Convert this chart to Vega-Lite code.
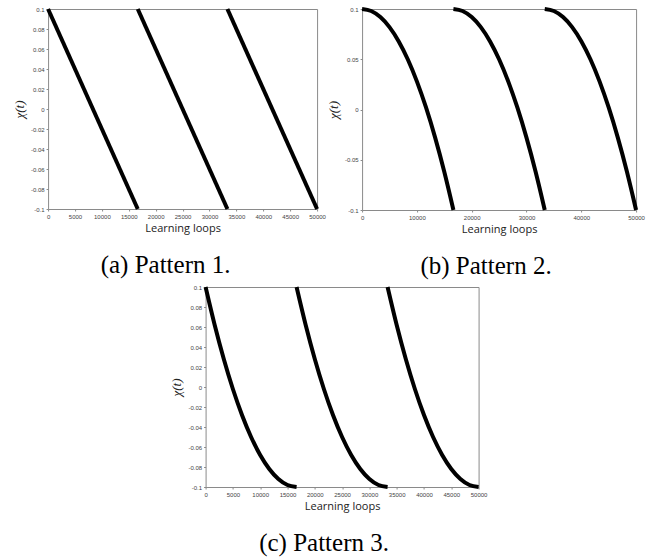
{
  "$schema": "https://vega.github.io/schema/vega-lite/v6.json",
  "padding": {"left": 12, "top": 0, "right": 5, "bottom": 5},
  "datasets": {
    "p1": [
      {"t": 0, "y": 0.1, "seg": 1}, {"t": 16667, "y": -0.1, "seg": 1},
      {"t": 16667, "y": 0.1, "seg": 2}, {"t": 33333, "y": -0.1, "seg": 2},
      {"t": 33333, "y": 0.1, "seg": 3}, {"t": 50000, "y": -0.1, "seg": 3}
    ],
    "p2": [
      {"t": 0, "y": 0.1, "seg": 1}, {"t": 1667, "y": 0.098, "seg": 1}, {"t": 3333, "y": 0.092, "seg": 1}, {"t": 5000, "y": 0.082, "seg": 1}, {"t": 6667, "y": 0.068, "seg": 1}, {"t": 8333, "y": 0.05, "seg": 1}, {"t": 10000, "y": 0.028, "seg": 1}, {"t": 11667, "y": 0.002, "seg": 1}, {"t": 13333, "y": -0.028, "seg": 1}, {"t": 15000, "y": -0.062, "seg": 1}, {"t": 16667, "y": -0.1, "seg": 1},
      {"t": 16667, "y": 0.1, "seg": 2}, {"t": 18333, "y": 0.098, "seg": 2}, {"t": 20000, "y": 0.092, "seg": 2}, {"t": 21667, "y": 0.082, "seg": 2}, {"t": 23333, "y": 0.068, "seg": 2}, {"t": 25000, "y": 0.05, "seg": 2}, {"t": 26667, "y": 0.028, "seg": 2}, {"t": 28333, "y": 0.002, "seg": 2}, {"t": 30000, "y": -0.028, "seg": 2}, {"t": 31667, "y": -0.062, "seg": 2}, {"t": 33333, "y": -0.1, "seg": 2},
      {"t": 33333, "y": 0.1, "seg": 3}, {"t": 35000, "y": 0.098, "seg": 3}, {"t": 36667, "y": 0.092, "seg": 3}, {"t": 38333, "y": 0.082, "seg": 3}, {"t": 40000, "y": 0.068, "seg": 3}, {"t": 41667, "y": 0.05, "seg": 3}, {"t": 43333, "y": 0.028, "seg": 3}, {"t": 45000, "y": 0.002, "seg": 3}, {"t": 46667, "y": -0.028, "seg": 3}, {"t": 48333, "y": -0.062, "seg": 3}, {"t": 50000, "y": -0.1, "seg": 3}
    ],
    "p3": [
      {"t": 0, "y": 0.1, "seg": 1}, {"t": 1667, "y": 0.062, "seg": 1}, {"t": 3333, "y": 0.028, "seg": 1}, {"t": 5000, "y": -0.002, "seg": 1}, {"t": 6667, "y": -0.028, "seg": 1}, {"t": 8333, "y": -0.05, "seg": 1}, {"t": 10000, "y": -0.068, "seg": 1}, {"t": 11667, "y": -0.082, "seg": 1}, {"t": 13333, "y": -0.092, "seg": 1}, {"t": 15000, "y": -0.098, "seg": 1}, {"t": 16667, "y": -0.1, "seg": 1},
      {"t": 16667, "y": 0.1, "seg": 2}, {"t": 18333, "y": 0.062, "seg": 2}, {"t": 20000, "y": 0.028, "seg": 2}, {"t": 21667, "y": -0.002, "seg": 2}, {"t": 23333, "y": -0.028, "seg": 2}, {"t": 25000, "y": -0.05, "seg": 2}, {"t": 26667, "y": -0.068, "seg": 2}, {"t": 28333, "y": -0.082, "seg": 2}, {"t": 30000, "y": -0.092, "seg": 2}, {"t": 31667, "y": -0.098, "seg": 2}, {"t": 33333, "y": -0.1, "seg": 2},
      {"t": 33333, "y": 0.1, "seg": 3}, {"t": 35000, "y": 0.062, "seg": 3}, {"t": 36667, "y": 0.028, "seg": 3}, {"t": 38333, "y": -0.002, "seg": 3}, {"t": 40000, "y": -0.028, "seg": 3}, {"t": 41667, "y": -0.05, "seg": 3}, {"t": 43333, "y": -0.068, "seg": 3}, {"t": 45000, "y": -0.082, "seg": 3}, {"t": 46667, "y": -0.092, "seg": 3}, {"t": 48333, "y": -0.098, "seg": 3}, {"t": 50000, "y": -0.1, "seg": 3}
    ]
  },
  "config": {
    "view": {"stroke": "#8a8a8a", "strokeWidth": 1},
    "axis": {
      "domain": false, "grid": false, "ticks": true, "tickColor": "#8a8a8a", "tickSize": 2,
      "labelFont": "Liberation Sans", "labelFontSize": 6, "labelColor": "#444", "labelPadding": 2,
      "labelFlush": false, "labelOverlap": false,
      "titleFontWeight": "normal", "titleColor": "#222"
    },
    "axisX": {"titleFont": "Open Sans", "titleFontSize": 11, "titlePadding": 3},
    "axisY": {"titleFont": "Liberation Serif", "titleFontSize": 13, "titleFontStyle": "italic", "titlePadding": 4},
    "title": {"font": "Liberation Serif", "fontSize": 25, "fontWeight": "normal", "color": "#000", "offset": 20}
  },
  "vconcat": [
    {
      "spacing": 0,
      "hconcat": [
        {
          "width": 269, "height": 200,
          "data": {"name": "p1"},
          "title": {"text": "(a) Pattern 1.", "orient": "bottom", "dx": -17},
          "mark": {"type": "line", "color": "black", "strokeWidth": 4},
          "encoding": {
            "x": {"field": "t", "type": "quantitative", "scale": {"domain": [0, 50000], "nice": false, "zero": false},
                  "axis": {"title": "Learning loops", "values": [0, 5000, 10000, 15000, 20000, 25000, 30000, 35000, 40000, 45000, 50000], "format": "d"}},
            "y": {"field": "y", "type": "quantitative", "scale": {"domain": [-0.1, 0.1], "nice": false},
                  "axis": {"title": "χ(t)", "values": [-0.1, -0.08, -0.06, -0.04, -0.02, 0, 0.02, 0.04, 0.06, 0.08, 0.1], "format": "~g", "labelExpr": "replace(datum.label, '−', '-')"}},
            "detail": {"field": "seg", "type": "nominal"}
          }
        },
        {
          "width": 274, "height": 201,
          "data": {"name": "p2"},
          "title": {"text": "(b) Pattern 2.", "orient": "bottom", "dx": -13},
          "mark": {"type": "line", "color": "black", "strokeWidth": 4, "interpolate": "monotone"},
          "encoding": {
            "x": {"field": "t", "type": "quantitative", "scale": {"domain": [0, 50000], "nice": false, "zero": false},
                  "axis": {"title": "Learning loops", "values": [0, 10000, 20000, 30000, 40000, 50000], "format": "d"}},
            "y": {"field": "y", "type": "quantitative", "scale": {"domain": [-0.1, 0.1], "nice": false},
                  "axis": {"title": "χ(t)", "values": [-0.1, -0.05, 0, 0.05, 0.1], "format": "~g", "labelExpr": "replace(datum.label, '−', '-')"}},
            "detail": {"field": "seg", "type": "nominal"}
          }
        }
      ]
    },
    {
      "width": 273, "height": 200,
      "data": {"name": "p3"},
      "title": {"text": "(c) Pattern 3.", "orient": "bottom", "dx": -18},
      "mark": {"type": "line", "color": "black", "strokeWidth": 4, "interpolate": "monotone"},
      "encoding": {
        "x": {"field": "t", "type": "quantitative", "scale": {"domain": [0, 50000], "nice": false, "zero": false},
              "axis": {"title": "Learning loops", "values": [0, 5000, 10000, 15000, 20000, 25000, 30000, 35000, 40000, 45000, 50000], "format": "d"}},
        "y": {"field": "y", "type": "quantitative", "scale": {"domain": [-0.1, 0.1], "nice": false},
              "axis": {"title": "χ(t)", "values": [-0.1, -0.08, -0.06, -0.04, -0.02, 0, 0.02, 0.04, 0.06, 0.08, 0.1], "format": "~g", "labelExpr": "replace(datum.label, '−', '-')"}},
        "detail": {"field": "seg", "type": "nominal"}
      }
    }
  ],
  "spacing": -2,
  "center": true
}
